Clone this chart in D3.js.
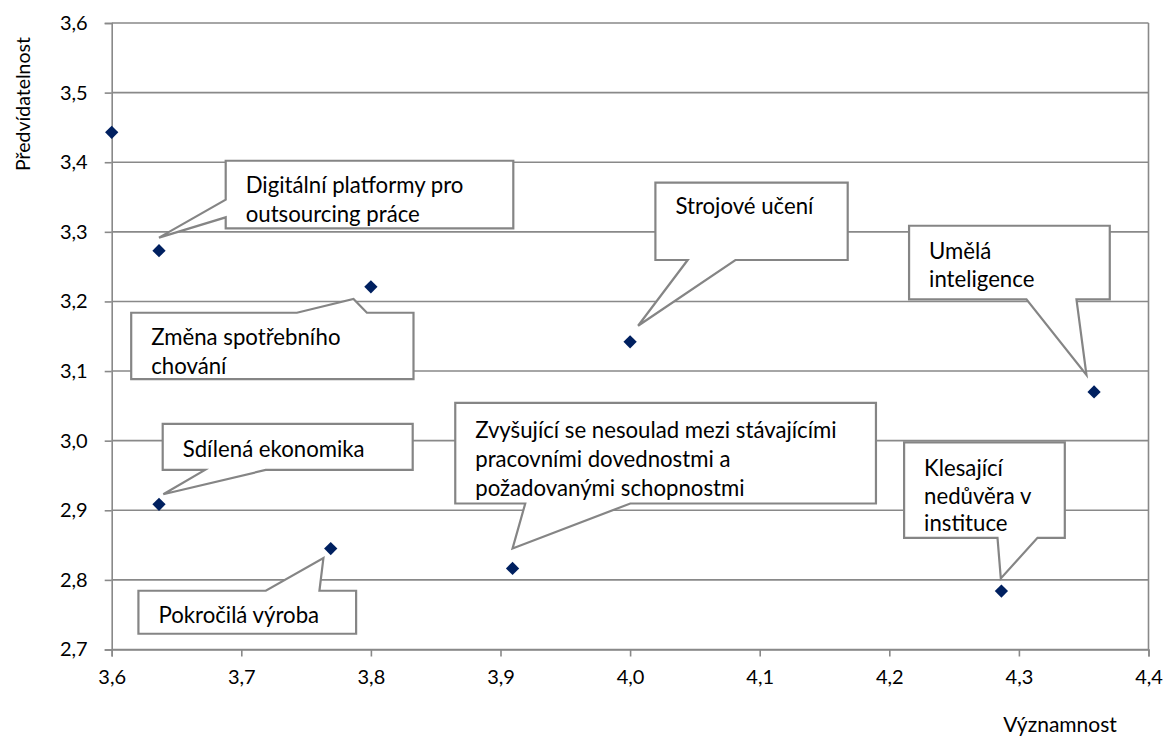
<!DOCTYPE html>
<html><head><meta charset="utf-8">
<script src="https://cdn.jsdelivr.net/npm/d3@7"></script>
<style>
html,body{margin:0;padding:0;background:#fff;}
svg{display:block;}
text{font-family:Lato,"Open Sans",sans-serif;fill:#000;}
</style></head>
<body>
<svg id="chart" width="1168" height="736"></svg>
<script>
// ---- data ----
const labels = [
  "",
  "Digitální platformy pro\noutsourcing práce",
  "Změna spotřebního\nchování",
  "Strojové učení",
  "Umělá\ninteligence",
  "Sdílená ekonomika",
  "Pokročilá výroba",
  "Zvyšující se nesoulad mezi stávajícími\npracovními dovednostmi a\npožadovanými schopnostmi",
  "Klesající\nnedůvěra v\ninstituce"
];
const vyznamnost = [3.600, 3.6365, 3.800, 4.000, 4.358, 3.6365, 3.769, 3.9093, 4.2865];
const predvidatelnost = [3.443, 3.273, 3.221, 3.142, 3.070, 2.9085, 2.845, 2.8165, 2.784];
const xTicks = [3.6, 3.7, 3.8, 3.9, 4.0, 4.1, 4.2, 4.3, 4.4];
const yTicks = [2.7, 2.8, 2.9, 3.0, 3.1, 3.2, 3.3, 3.4, 3.5, 3.6];
const xTitle = "Významnost";
const yTitle = "Předvídatelnost";

// ---- callout layout (pixel offsets relative to each point) ----
// dx,dy: box top-left from point; w,h: box size; side: wedge side; a,b: wedge base along side; tx,ty: tip from point; ly: first baseline; lh: line height
const calloutLayout = [
  null,
  {dx:66.7, dy:-89.9, w:287.6, h:67.6, side:"left", a:39, b:56.6, tx:0, ty:-13, ly:32.6, lh:28.5},
  {dx:-239.7, dy:25.9, w:282.3, h:66.3, side:"top", a:165.7, b:235.7, tx:-17.4, ty:12.2, ly:32.6, lh:28.5},
  {dx:25.3, dy:-159.1, w:192.3, h:77.3, side:"bottom", a:32.3, b:80, tx:8, ty:-16.1, ly:31.5, lh:28.5},
  {dx:-185, dy:-166.2, w:200.7, h:73.6, side:"bottom", a:117.4, b:167.4, tx:-7.6, ty:-16.9, ly:33, lh:28.5},
  {dx:3.7, dy:-80.4, w:250, h:46, side:"bottom", a:42.3, b:103, tx:4.3, ty:-10.1, ly:33, lh:28.5},
  {dx:-192.3, dy:42.2, w:217.7, h:43, side:"top", a:127.4, b:181, tx:-7.3, ty:9.5, ly:32.5, lh:28.5},
  {dx:-57.3, dy:-165.5, w:420.7, h:100.6, side:"bottom", a:70, b:175, tx:0, ty:-19.9, ly:35.5, lh:28.7},
  {dx:-97.3, dy:-148.6, w:160.7, h:95.4, side:"bottom", a:93.4, b:133.4, tx:-0.6, ty:-12.6, ly:33.4, lh:27.8}
];

const svg = d3.select("#chart");
const margin = {left:111.7, right:1168-1148.5, top:23, bottom:736-649.5};
const W = 1168, H = 736;
const x = d3.scaleLinear().domain([3.6, 4.4]).range([margin.left, W - margin.right]);
const y = d3.scaleLinear().domain([2.7, 3.6]).range([H - margin.bottom, margin.top]);
const fmt = d3.formatLocale({decimal:",", thousands:" ", grouping:[3], currency:["","Kč"]}).format(".1f");
const gridColor = "#898989";

// gridlines
svg.append("g").selectAll("line").data(yTicks).join("line")
  .attr("x1", x(3.6)).attr("x2", x(4.4))
  .attr("y1", d => y(d)).attr("y2", d => y(d))
  .attr("stroke", gridColor).attr("stroke-width", 1.6);
// right border
svg.append("line").attr("x1", x(4.4)).attr("x2", x(4.4)).attr("y1", y(3.6)).attr("y2", y(2.7))
  .attr("stroke", gridColor).attr("stroke-width", 1.6);

// axes
const yAxis = svg.append("g").attr("transform", `translate(${x(3.6)},0)`)
  .call(d3.axisLeft(y).tickValues(yTicks).tickFormat(fmt).tickSize(7).tickPadding(17));
const xAxis = svg.append("g").attr("transform", `translate(0,${y(2.7)})`)
  .call(d3.axisBottom(x).tickValues(xTicks).tickFormat(fmt).tickSize(7).tickPadding(13));
[xAxis, yAxis].forEach(g => {
  g.select(".domain").attr("stroke", gridColor).attr("stroke-width", 1.6);
  g.selectAll(".tick line").attr("stroke", gridColor).attr("stroke-width", 1.6);
  g.selectAll(".tick text").attr("font-size", 20).attr("font-family", "Lato, 'Open Sans', sans-serif").attr("fill", "#000");
});

// axis titles
svg.append("text").attr("transform", "translate(22,104) rotate(-90)")
  .attr("text-anchor", "middle").attr("dominant-baseline", "central")
  .attr("font-size", 19.5).text(yTitle);
svg.append("text").attr("x", 1060).attr("y", 723)
  .attr("text-anchor", "middle").attr("dominant-baseline", "central")
  .attr("font-size", 21).text(xTitle);

// data table
const pts = vyznamnost.map((v, i) => ({x: v, y: predvidatelnost[i], label: labels[i], lay: calloutLayout[i]}));

// callouts
function calloutPath(px, py, L) {
  const bx = px + L.dx, by = py + L.dy, w = L.w, h = L.h;
  const tx = px + L.tx, ty = py + L.ty;
  const p = d3.path();
  p.moveTo(bx, by);
  if (L.side === "top") { p.lineTo(bx + L.a, by); p.lineTo(tx, ty); p.lineTo(bx + L.b, by); }
  p.lineTo(bx + w, by);
  p.lineTo(bx + w, by + h);
  if (L.side === "bottom") { p.lineTo(bx + L.b, by + h); p.lineTo(tx, ty); p.lineTo(bx + L.a, by + h); }
  p.lineTo(bx, by + h);
  if (L.side === "left") { p.lineTo(bx, by + L.b); p.lineTo(tx, ty); p.lineTo(bx, by + L.a); }
  p.closePath();
  return p.toString();
}

const co = svg.append("g").selectAll("g").data(pts.filter(d => d.lay)).join("g");
co.each(function(d, i) {
  const g = d3.select(this);
  const L = d.lay;
  const bx = x(d.x) + L.dx, by = y(d.y) + L.dy;
  const pathD = calloutPath(x(d.x), y(d.y), L);
  const cid = "clip" + i;
  g.append("clipPath").attr("id", cid).append("rect")
    .attr("x", bx).attr("y", by).attr("width", L.w).attr("height", L.h - 1);
  g.append("path").attr("d", pathD).attr("fill", "#fff").attr("stroke", "none");
  const t = g.append("text").attr("font-size", 22.2).attr("clip-path", `url(#${cid})`);
  d.label.split("\n").forEach((line, k) => {
    t.append("tspan").attr("x", bx + 20).attr("y", by + L.ly + k * L.lh).text(line);
  });
  g.append("path").attr("d", pathD).attr("fill", "none")
    .attr("stroke", "#858585").attr("stroke-width", 2.2).attr("stroke-linejoin", "miter");
});

// markers
svg.append("g").selectAll("path").data(pts).join("path")
  .attr("transform", d => `translate(${x(d.x)},${y(d.y)}) rotate(45)`)
  .attr("d", d3.symbol(d3.symbolSquare, 88))
  .attr("fill", "#002060");
</script>
</body></html>
